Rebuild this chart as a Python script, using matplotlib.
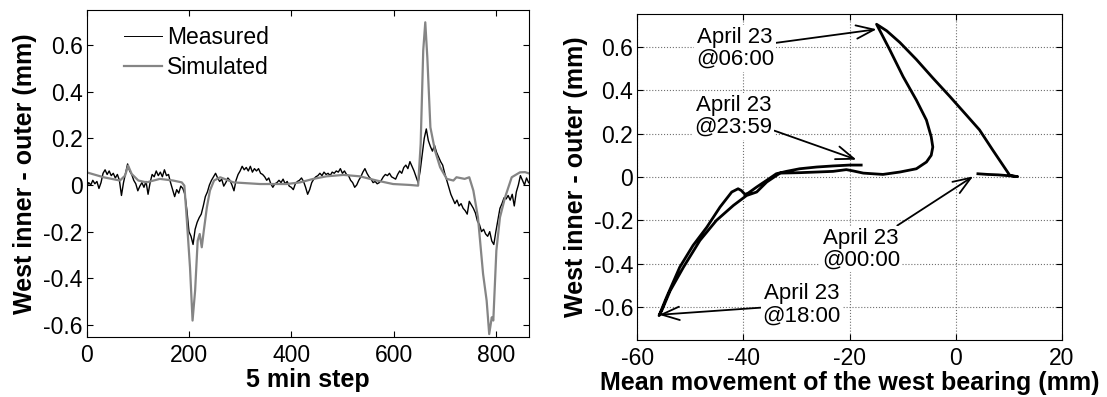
import matplotlib
matplotlib.use('Agg')
from matplotlib import pyplot as plt
import numpy as np

plt.rcParams['font.family'] = ['Liberation Sans', 'DejaVu Sans']
plt.rcParams['axes.unicode_minus'] = False

# Left panel: measured (every 4 steps) and simulated series
meas_step = list(range(0, 865, 4))
meas_val = [
    -0.01, 0.01, 0.0, 0.02, 0.005, 0.015, -0.015, 0.01, 0.05, 0.065,
    0.045, 0.06, 0.04, 0.05, 0.03, 0.045, 0.02, -0.045, 0.01, 0.05,
    0.09, 0.06, 0.045, 0.02, 0.005, -0.025, -0.005, 0.01, -0.01, 0.015,
    -0.04, 0.01, 0.045, 0.035, 0.06, 0.04, 0.055, 0.035, 0.065, 0.04,
    0.045, 0.01, -0.02, -0.05, -0.02, -0.035, -0.005, -0.015, -0.04, -0.11,
    -0.2, -0.22, -0.255, -0.19, -0.16, -0.14, -0.125, -0.09, -0.05, -0.03,
    0.0, 0.02, 0.035, 0.05, 0.03, 0.015, 0.025, -0.005, 0.01, 0.03,
    0.02, 0.0, -0.025, 0.02, 0.045, 0.06, 0.08, 0.065, 0.075, 0.06,
    0.08, 0.055, 0.07, 0.06, 0.07, 0.05, 0.045, 0.035, 0.02, 0.03,
    0.005, -0.01, 0.005, 0.01, 0.02, 0.01, 0.025, 0.005, 0.015, -0.005,
    -0.01, -0.02, 0.005, 0.015, 0.02, 0.03, 0.015, -0.01, -0.04, -0.02,
    0.01, 0.025, 0.035, 0.04, 0.05, 0.04, 0.055, 0.045, 0.05, 0.04,
    0.055, 0.05, 0.06, 0.055, 0.07, 0.05, 0.06, 0.045, 0.04, 0.02,
    0.01, -0.01, 0.0, 0.02, 0.035, 0.055, 0.07, 0.05, 0.035, 0.025,
    0.01, 0.015, 0.005, 0.01, 0.02, 0.035, 0.045, 0.04, 0.05, 0.035,
    0.03, 0.025, 0.045, 0.06, 0.05, 0.075, 0.085, 0.07, 0.1, 0.08,
    0.06, 0.035, 0.01, 0.06, 0.13, 0.2, 0.24, 0.19, 0.165, 0.145,
    0.17, 0.14, 0.12, 0.1, 0.085, 0.05, 0.02, -0.01, -0.04, -0.06,
    -0.08, -0.065, -0.09, -0.08, -0.1, -0.11, -0.125, -0.07, -0.085, -0.1,
    -0.12, -0.155, -0.17, -0.2, -0.19, -0.21, -0.22, -0.2, -0.24, -0.255,
    -0.2, -0.15, -0.1, -0.08, -0.055, -0.06, -0.045, -0.065, -0.04, -0.09,
    -0.03, 0.0, 0.04, 0.02, 0.0, 0.03, 0.01,
]

sim_step = [0, 33, 65, 75, 81, 88, 101, 117, 143, 169, 186, 191, 195, 202,
            207, 212, 217, 221, 225, 229, 235, 241, 249, 261, 287, 339, 391,
            417, 443, 469, 502, 534, 567, 599, 632, 648, 653, 658, 662, 666,
            672, 681, 691, 704, 717, 723, 739, 748, 756, 765, 775, 782, 787,
            792, 795, 801, 808, 818, 831, 847, 857, 864]
sim_val = [0.054, 0.033, 0.019, 0.04, 0.083, 0.047, 0.019, 0.011, 0.026, 0.019,
           0.011, -0.003, -0.124, -0.353, -0.581, -0.453, -0.239, -0.21, -0.267,
           -0.196, -0.096, -0.024, 0.019, 0.033, 0.011, 0.004, 0.004, 0.011,
           0.026, 0.037, 0.043, 0.037, 0.019, 0.004, 0.0, -0.003, 0.176, 0.576,
           0.697, 0.547, 0.247, 0.147, 0.076, 0.026, 0.019, 0.033, 0.026, 0.033,
           -0.024, -0.139, -0.381, -0.496, -0.639, -0.567, -0.581, -0.281,
           -0.139, -0.053, 0.033, 0.054, 0.055, 0.05]

# Right panel: loop of April 23 (x = mean bearing movement, y = inner - outer)
loop_x = [4.2, 6.0, 8.0, 10.0, 11.7, 11.0, 10.2, 7.0, 4.5, 2.0, -1.1, -4.3,
          -7.4, -10.5, -13.0, -14.9, -12.4, -9.9, -7.4, -5.5, -4.6, -4.3,
          -4.6, -5.5, -7.4, -10.5, -13.7, -15.6, -17.4, -19.3, -20.6, -23.1,
          -26.2, -29.4, -33.1, -35.6, -37.5, -39.4, -41.9, -45.1, -48.2,
          -51.3, -53.8, -55.4, -55.9, -54.5, -52.0, -49.5, -46.9, -44.4,
          -42.2, -41.0, -40.4, -39.7, -39.1, -37.5, -35.6, -33.8, -31.9,
          -29.4, -26.2, -23.1, -20.0, -17.8]
loop_y = [0.015, 0.012, 0.01, 0.006, 0.002, 0.004, 0.008, 0.124, 0.217, 0.286,
          0.371, 0.456, 0.541, 0.619, 0.673, 0.703, 0.585, 0.462, 0.354, 0.262,
          0.185, 0.138, 0.1, 0.069, 0.038, 0.023, 0.012, 0.015, 0.018, 0.028,
          0.034, 0.026, 0.023, 0.02, 0.018, -0.023, -0.069, -0.085, -0.131,
          -0.2, -0.292, -0.415, -0.523, -0.615, -0.638, -0.554, -0.415, -0.315,
          -0.231, -0.138, -0.069, -0.054, -0.062, -0.08, -0.074, -0.046, -0.015,
          0.015, 0.026, 0.038, 0.046, 0.051, 0.055, 0.055]

notes = ['April 23\n@06:00', 'April 23\n@23:59', 'April 23\n@00:00', 'April 23\n@18:00']
note_xy = [(-14.9, 0.68), (-18.7, 0.08), (3.3, 0.003), (-55.9, -0.634)]
note_text = [(-41.6, 0.592), (-41.9, 0.28), (-17.8, -0.331), (-29.0, -0.588)]

fig = plt.figure(figsize=(11.07, 3.97), dpi=100)
ax1 = fig.add_axes([0.0783, 0.152, 0.3992, 0.823])
ax2 = fig.add_axes([0.5757, 0.1436, 0.3834, 0.821])

tick_fs = 16.5
label_fs = 18

ax1.plot(meas_step, meas_val, color='black', lw=1.0, label='Measured')
ax1.plot(sim_step, sim_val, color='#858585', lw=1.6, label='Simulated')
ax1.set_xlim(0, 864)
ax1.set_ylim(-0.65, 0.75)
ax1.set_xticks([0, 200, 400, 600, 800])
ax1.set_yticks([-0.6, -0.4, -0.2, 0, 0.2, 0.4, 0.6])
ax1.set_yticklabels(['-0.6', '-0.4', '-0.2', '0', '0.2', '0.4', '0.6'])
ax1.set_xlabel('5 min step', fontsize=label_fs, fontweight='bold', labelpad=1)
ax1.set_ylabel('West inner - outer (mm)', fontsize=label_fs, fontweight='bold', labelpad=4)
leg = ax1.legend(loc='upper left', bbox_to_anchor=(0.085, 0.95), frameon=False,
                 fontsize=tick_fs, handlelength=1.65, handletextpad=0.2,
                 labelspacing=0.3, borderpad=0, borderaxespad=0)
leg.get_lines()[0].set_linewidth(0.7)

ax2.plot(loop_x, loop_y, color='black', lw=2.0)
ax2.set_xlim(-60, 20)
ax2.set_ylim(-0.75, 0.75)
ax2.set_xticks([-60, -40, -20, 0, 20])
ax2.set_yticks([-0.6, -0.4, -0.2, 0, 0.2, 0.4, 0.6])
ax2.set_yticklabels(['-0.6', '-0.4', '-0.2', '0', '0.2', '0.4', '0.6'])
ax2.grid(True, color='#707070', linestyle=':', lw=0.8)
ax2.set_xlabel('Mean movement of the west bearing (mm)', fontsize=label_fs,
               fontweight='bold', labelpad=1)
ax2.set_ylabel('West inner - outer (mm)', fontsize=label_fs, fontweight='bold', labelpad=4)

for txt, xy, xyt in zip(notes, note_xy, note_text):
    ax2.annotate(txt, xy=xy, xytext=xyt, ha='center', va='center',
                 multialignment='center', fontsize=16, linespacing=1.05,
                 bbox=dict(fc='white', ec='none', pad=1.5),
                 arrowprops=dict(arrowstyle='->,head_length=0.8,head_width=0.3',
                                 color='black', lw=1.3, shrinkA=0, shrinkB=0))

for ax in (ax1, ax2):
    ax.tick_params(direction='in', top=True, right=True, length=4, width=0.8,
                   labelsize=tick_fs)
    ax.tick_params(axis='x', pad=5)
    ax.tick_params(axis='y', pad=3)
    for s in ax.spines.values():
        s.set_linewidth(0.8)

fig.savefig('out.png', dpi=100)
